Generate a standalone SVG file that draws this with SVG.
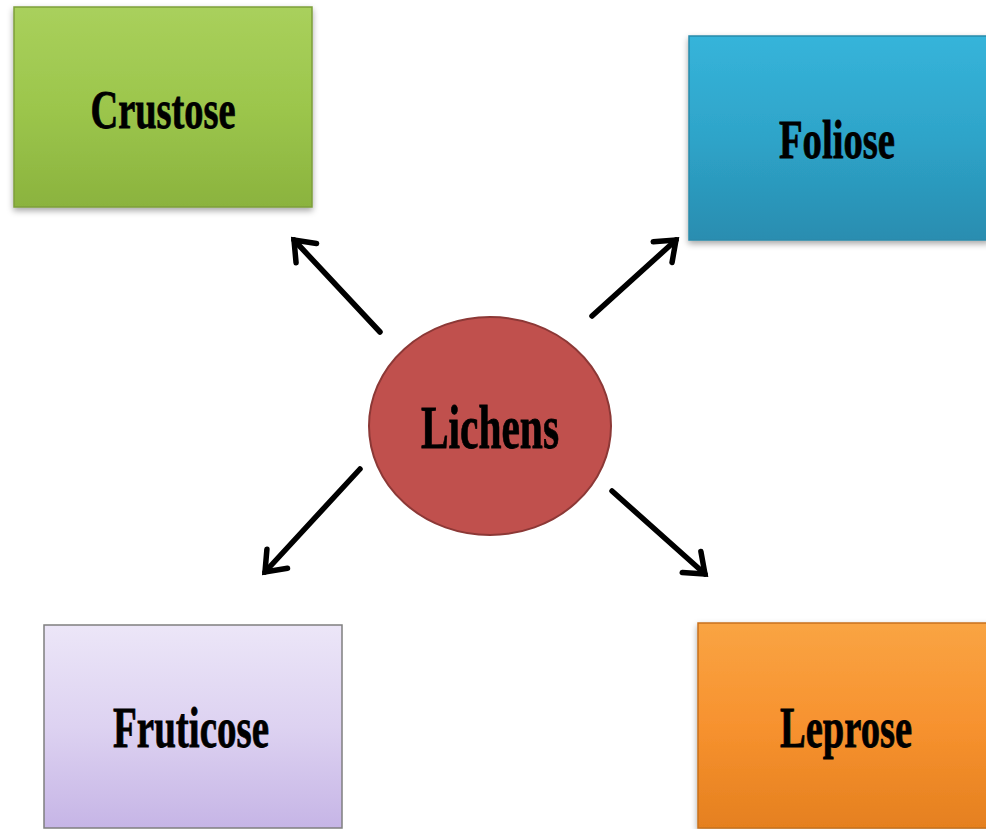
<svg xmlns="http://www.w3.org/2000/svg" width="986" height="829" viewBox="0 0 986 829">
<style>
.lbl{font-family:"Liberation Serif","Times New Roman",serif;font-weight:bold;fill:#000;stroke:#000;stroke-width:0.8;text-anchor:middle}
.conn line{stroke:#000;stroke-width:5.5;stroke-linecap:round;marker-end:url(#ah)}
</style>
<defs>
<marker id="ah" markerUnits="userSpaceOnUse" markerWidth="40" markerHeight="40" viewBox="-30 -20 40 40" refX="0" refY="0" orient="auto">
<path d="M-18,-14 L0,0 L-18,14" fill="none" stroke="#000" stroke-width="5.5" stroke-linecap="round" stroke-linejoin="miter"/>
</marker>
<linearGradient id="gG" x1="0" y1="0" x2="0" y2="1"><stop offset="0" stop-color="#a9d05c"/><stop offset="0.5" stop-color="#9cc64c"/><stop offset="1" stop-color="#8bb33e"/></linearGradient>
<linearGradient id="gB" x1="0" y1="0" x2="0" y2="1"><stop offset="0" stop-color="#36b4da"/><stop offset="0.5" stop-color="#2ea4c9"/><stop offset="1" stop-color="#298db0"/></linearGradient>
<linearGradient id="gP" x1="0" y1="0" x2="0" y2="1"><stop offset="0" stop-color="#ece6f8"/><stop offset="0.5" stop-color="#ddd2f1"/><stop offset="1" stop-color="#c6b5e6"/></linearGradient>
<linearGradient id="gO" x1="0" y1="0" x2="0" y2="1"><stop offset="0" stop-color="#f9a443"/><stop offset="0.5" stop-color="#f7922f"/><stop offset="1" stop-color="#e5801f"/></linearGradient>
<filter id="sh" x="-10%" y="-10%" width="120%" height="130%"><feDropShadow dx="0" dy="3" stdDeviation="3" flood-color="#000" flood-opacity="0.35"/></filter>
</defs>
<rect width="986" height="829" fill="#fff"/>
<g class="conn" id="connectors">
<line x1="380" y1="332" x2="294" y2="240"/>
<line x1="592" y1="316" x2="676" y2="240"/>
<line x1="360" y1="469" x2="265" y2="572"/>
<line x1="612" y1="491" x2="705" y2="574"/>
</g>
<g id="crustose">
<rect x="14" y="7" width="298" height="200" fill="url(#gG)" stroke="#7d9e3a" stroke-width="1.5" filter="url(#sh)"/>
<text class="lbl" x="163" y="128" font-size="54" textLength="145" lengthAdjust="spacingAndGlyphs">Crustose</text>
</g>
<g id="foliose">
<rect x="689" y="36" width="300" height="204" fill="url(#gB)" stroke="#2a8aab" stroke-width="1.5" filter="url(#sh)"/>
<text class="lbl" x="837" y="158" font-size="55" textLength="116" lengthAdjust="spacingAndGlyphs">Foliose</text>
</g>
<g id="lichens">
<ellipse cx="490" cy="426" rx="121" ry="109" fill="#c0504d" stroke="#8c3836" stroke-width="2"/>
<text class="lbl" x="490" y="448" font-size="62" textLength="138" lengthAdjust="spacingAndGlyphs">Lichens</text>
</g>
<g id="fruticose">
<rect x="44" y="625" width="298" height="203" fill="url(#gP)" stroke="#7f7f7f" stroke-width="1.5"/>
<text class="lbl" x="191" y="747" font-size="56" textLength="156" lengthAdjust="spacingAndGlyphs">Fruticose</text>
</g>
<g id="leprose">
<rect x="698" y="623" width="292" height="205" fill="url(#gO)" stroke="#c8701c" stroke-width="1.5" filter="url(#sh)"/>
<text class="lbl" x="846" y="747" font-size="56" textLength="132" lengthAdjust="spacingAndGlyphs">Leprose</text>
</g>
</svg>
